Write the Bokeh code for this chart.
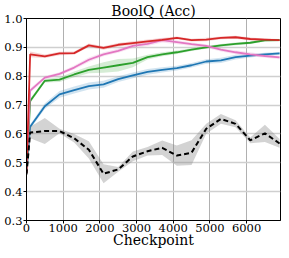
import numpy as np
from bokeh.plotting import figure
from bokeh.models import Range1d, FixedTicker, PrintfTickFormatter
from bokeh.embed import file_html
from bokeh.resources import INLINE

checkpoints = [0, 100, 500, 900, 1300, 1700, 2100, 2500, 2900, 3300, 3700,
               4100, 4500, 4900, 5300, 5700, 6100, 6500, 6900]

red_mean = [0.465, 0.876, 0.869, 0.879, 0.880, 0.907, 0.898, 0.909, 0.915, 0.921,
            0.926, 0.933, 0.925, 0.927, 0.933, 0.935, 0.929, 0.927, 0.925]
red_std = [0.005, 0.010, 0.006, 0.006, 0.006, 0.006, 0.006, 0.006, 0.006, 0.006,
           0.006, 0.005, 0.005, 0.006, 0.005, 0.005, 0.005, 0.004, 0.004]

pink_mean = [0.465, 0.750, 0.795, 0.808, 0.830, 0.857, 0.876, 0.888, 0.905, 0.912,
             0.925, 0.918, 0.911, 0.905, 0.892, 0.883, 0.876, 0.870, 0.865]
pink_std = [0.005, 0.008, 0.006, 0.006, 0.007, 0.008, 0.007, 0.007, 0.007, 0.007,
            0.008, 0.007, 0.006, 0.006, 0.006, 0.007, 0.007, 0.006, 0.006]

green_mean = [0.465, 0.714, 0.784, 0.788, 0.806, 0.822, 0.830, 0.838, 0.846, 0.866,
              0.876, 0.883, 0.892, 0.900, 0.907, 0.912, 0.916, 0.924, 0.925]
green_std = [0.005, 0.008, 0.006, 0.008, 0.010, 0.012, 0.018, 0.022, 0.015, 0.008,
             0.007, 0.006, 0.005, 0.005, 0.005, 0.005, 0.004, 0.004, 0.004]

blue_mean = [0.465, 0.625, 0.696, 0.737, 0.752, 0.766, 0.772, 0.790, 0.803, 0.815,
             0.822, 0.828, 0.838, 0.851, 0.855, 0.866, 0.871, 0.876, 0.879]
blue_std = [0.005, 0.008, 0.010, 0.012, 0.012, 0.012, 0.012, 0.010, 0.010, 0.010,
            0.009, 0.008, 0.008, 0.008, 0.009, 0.008, 0.006, 0.005, 0.005]

base_mean = [0.460, 0.605, 0.610, 0.610, 0.585, 0.545, 0.462, 0.477, 0.522, 0.540,
             0.552, 0.525, 0.535, 0.618, 0.652, 0.635, 0.578, 0.602, 0.567]
base_std = [0.010, 0.020, 0.045, 0.008, 0.015, 0.030, 0.033, 0.008, 0.017, 0.015,
            0.025, 0.035, 0.043, 0.017, 0.017, 0.012, 0.010, 0.030, 0.015]

x_ticks = [0, 1000, 2000, 3000, 4000, 5000, 6000]
y_ticks = [0.3, 0.4, 0.5, 0.6, 0.7, 0.8, 0.9, 1.0]
title_text = "BoolQ (Acc)"
x_label = "Checkpoint"

FONT = "DejaVu Serif"
X_MAX = 6925

p = figure(width=281, height=250, output_backend="svg", toolbar_location=None,
           x_range=Range1d(0, X_MAX), y_range=Range1d(0.3, 1.0),
           min_border_left=26, min_border_right=1, min_border_top=0,
           min_border_bottom=0, title=title_text)
p.title.text_font = FONT
p.title.text_font_size = "14px"
p.title.text_font_style = "normal"
p.title.align = "center"
p.title.standoff = 0
p.title.text_color = "black"

p.background_fill_color = "white"
p.border_fill_color = "white"
p.outline_line_color = "black"
p.outline_line_width = 1
p.outline_line_alpha = 1

for ax in (p.xaxis, p.yaxis):
    ax.axis_line_color = "black"
    ax.major_tick_line_color = "black"
    ax.minor_tick_line_color = None
    ax.major_tick_in = 0
    ax.major_tick_out = 3
    ax.major_label_text_font = FONT
    ax.major_label_text_font_size = "11.5px"
    ax.major_label_text_color = "black"
    ax.major_label_standoff = 1

p.xaxis.major_label_standoff = 0
p.xaxis.ticker = FixedTicker(ticks=x_ticks)
p.yaxis.ticker = FixedTicker(ticks=y_ticks)
p.yaxis.formatter = PrintfTickFormatter(format="%.1f")
p.xaxis.axis_label = x_label
p.xaxis.axis_label_text_font = FONT
p.xaxis.axis_label_text_font_size = "14px"
p.xaxis.axis_label_text_font_style = "normal"
p.xaxis.axis_label_text_color = "black"
p.xaxis.axis_label_standoff = -3

p.xgrid.grid_line_color = "#b0b0b0"
p.xgrid.grid_line_width = 1
p.ygrid.grid_line_color = "#cfcfcf"
p.ygrid.grid_line_width = 1.5

x = np.array(checkpoints, dtype=float)
series = [
    (blue_mean, blue_std, "#1f77b4"),
    (green_mean, green_std, "#2ca02c"),
    (pink_mean, pink_std, "#e377c2"),
    (red_mean, red_std, "#d62728"),
]
for mean, std, col in series:
    m = np.array(mean)
    s = np.array(std)
    p.varea(x=x, y1=m - s, y2=m + s, fill_color=col, fill_alpha=0.2)
for mean, std, col in series:
    p.line(x, mean, line_color=col, line_width=1.8)

bm = np.array(base_mean)
bs = np.array(base_std)
p.varea(x=x, y1=bm - bs, y2=bm + bs, fill_color="#808080", fill_alpha=0.35)
p.line(x, base_mean, line_color="black", line_width=2, line_dash="5 3")

open("out.html", "w").write(file_html(p, INLINE))
